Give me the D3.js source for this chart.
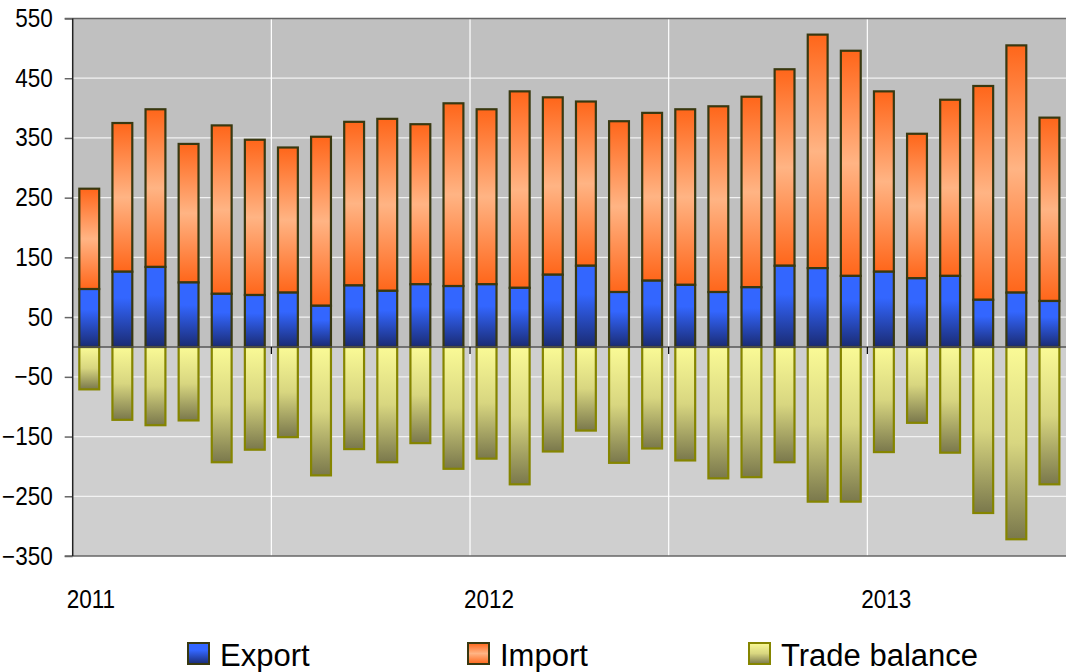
<!DOCTYPE html>
<html>
<head>
<meta charset="utf-8">
<script src="https://cdn.jsdelivr.net/npm/d3@7"></script>
<style>
  body { margin: 0; background: #fff; }
  text { font-family: "Liberation Sans", Arial, sans-serif; fill: #000; }
</style>
</head>
<body>
<div id="chart"></div>
<script>
const months = ["2011-01", "2011-02", "2011-03", "2011-04", "2011-05", "2011-06",
  "2011-07", "2011-08", "2011-09", "2011-10", "2011-11", "2011-12",
  "2012-01", "2012-02", "2012-03", "2012-04", "2012-05", "2012-06",
  "2012-07", "2012-08", "2012-09", "2012-10", "2012-11", "2012-12",
  "2013-01", "2013-02", "2013-03", "2013-04", "2013-05", "2013-06"];
const exportVals = [97, 126, 134, 108, 89, 87, 91, 69, 103, 94, 105, 102, 105, 99, 121,
  136, 92, 111, 104, 92, 100, 136, 132, 119, 126, 115, 119, 79, 91, 77];
const importVals = [168, 249, 264, 232, 282, 260, 243, 283, 274, 288, 268, 306, 293, 329, 297,
  275, 286, 281, 294, 311, 319, 329, 391, 377, 302, 242, 295, 358, 414, 307];
const balanceVals = [-71, -122, -131, -123, -193, -172, -151, -215, -171, -193, -161, -204, -187, -230, -175,
  -140, -194, -170, -190, -220, -218, -193, -259, -259, -176, -127, -177, -278, -322, -230];
const yTicks = [550, 450, 350, 250, 150, 50, -50, -150, -250, -350];
const yearLabels = [{ month: "2011-01", label: "2011" }, { month: "2012-01", label: "2012" }, { month: "2013-01", label: "2013" }];
const gridMonths = ["2011-07", "2012-01", "2012-07", "2013-01"];
const seriesNames = ["Export", "Import", "Trade balance"];

const svgWidth = 1066, svgHeight = 672;
const margin = { top: 18.5, right: 0, bottom: 116, left: 72.7 };
const width = svgWidth - margin.left - margin.right;
const height = svgHeight - margin.top - margin.bottom;
// axis labels in the original use a narrow face: squeeze Liberation Sans a bit
const squeeze = 0.9;

const svg = d3.select("#chart").append("svg").
  attr("width", svgWidth).
  attr("height", svgHeight);

// gradients
const defs = svg.append("defs");
const grad = (id, stops) => {
  const g = defs.append("linearGradient").attr("id", id).
    attr("x1", 0).attr("y1", 0).attr("x2", 0).attr("y2", 1);
  stops.forEach(s => g.append("stop").attr("offset", s[0]).attr("stop-color", s[1]));
};
grad("gExport", [[0, "#3366ff"], [0.35, "#3366ff"], [1, "#1a2b73"]]);
grad("gImport", [[0, "#ff661a"], [0.5, "#ffb484"], [1, "#ff661a"]]);
grad("gBalance", [[0, "#fafa96"], [0.5, "#d8d680"], [1, "#7a784c"]]);

const x = d3.scaleBand().
  domain(months).
  range([0, width]).
  paddingInner(0.4).
  paddingOuter(0.2);
const edge = m => x(m) - x.step() * x.paddingInner() / 2;

const y = d3.scaleLinear().
  domain([-350, 550]).
  range([height, 0]);

const g = svg.append("g").attr("transform", `translate(${margin.left},${margin.top})`);

// plot background, two tones split at zero
g.append("rect").attr("x", 0).attr("y", 0).attr("width", width).attr("height", y(0)).attr("fill", "#c0c0c0");
g.append("rect").attr("x", 0).attr("y", y(0)).attr("width", width).attr("height", height - y(0)).attr("fill", "#cfcfcf");

// grid
g.append("g").
  selectAll("line").
  data(yTicks.slice(1, -1)).
  join("line").
  attr("x1", 0).attr("x2", width).
  attr("y1", d => y(d)).attr("y2", d => y(d)).
  attr("stroke", "#f2f2f2").
  attr("stroke-width", 1.2);
g.append("g").
  selectAll("line").
  data(gridMonths).
  join("line").
  attr("x1", d => edge(d)).attr("x2", d => edge(d)).
  attr("y1", 0).attr("y2", height).
  attr("stroke", "#ffffff").
  attr("stroke-width", 1.2);

// y axis
const yAxis = g.append("g").
  call(d3.axisLeft(y).tickValues(yTicks).tickSize(8).tickPadding(12).tickFormat(d3.format("d")));
yAxis.select(".domain").remove();
yAxis.selectAll(".tick line").attr("stroke", "#666").attr("stroke-width", 1.5);
yAxis.selectAll(".tick text").
  style("font-size", "25px").
  attr("fill", "#000").
  attr("x", -20 / squeeze).
  attr("transform", `scale(${squeeze},1)`);

// borders
g.append("line").attr("x1", -8).attr("x2", width).attr("y1", 0).attr("y2", 0).attr("stroke", "#666").attr("stroke-width", 1.5);
g.append("line").attr("x1", -8).attr("x2", width).attr("y1", height).attr("y2", height).attr("stroke", "#666").attr("stroke-width", 1.5);

// bars
const bw = x.bandwidth();
g.append("g").
  selectAll("rect").
  data(months).
  join("rect").
  attr("x", d => x(d)).
  attr("width", bw).
  attr("y", (d, i) => y(0)).
  attr("height", (d, i) => y(balanceVals[i]) - y(0)).
  attr("fill", "url(#gBalance)").
  attr("stroke", "#858500").
  attr("stroke-width", 2.2);

g.append("g").
  selectAll("rect").
  data(months).
  join("rect").
  attr("x", d => x(d)).
  attr("width", bw).
  attr("y", (d, i) => y(exportVals[i] + importVals[i])).
  attr("height", (d, i) => y(exportVals[i]) - y(exportVals[i] + importVals[i])).
  attr("fill", "url(#gImport)").
  attr("stroke", "#383810").
  attr("stroke-width", 2.2);

g.append("g").
  selectAll("rect").
  data(months).
  join("rect").
  attr("x", d => x(d)).
  attr("width", bw).
  attr("y", (d, i) => y(exportVals[i])).
  attr("height", (d, i) => y(0) - y(exportVals[i])).
  attr("fill", "url(#gExport)").
  attr("stroke", "#383810").
  attr("stroke-width", 2.2);

// zero line and its ticks
g.append("line").attr("x1", 0).attr("x2", width).attr("y1", y(0)).attr("y2", y(0)).attr("stroke", "#555").attr("stroke-width", 1.5);
g.append("g").
  selectAll("line").
  data(gridMonths).
  join("line").
  attr("x1", d => edge(d)).attr("x2", d => edge(d)).
  attr("y1", y(0)).attr("y2", y(0) + 7).
  attr("stroke", "#000").
  attr("stroke-width", 1.2);

// left axis line
g.append("line").attr("x1", 0).attr("x2", 0).attr("y1", 0).attr("y2", height).attr("stroke", "#222").attr("stroke-width", 1.5);

// year labels
g.append("g").
  selectAll("text").
  data(yearLabels).
  join("text").
  attr("x", d => (edge(d.month) - 6) / squeeze).
  attr("y", height + 52).
  attr("transform", `scale(${squeeze},1)`).
  style("font-size", "25px").
  text(d => d.label);

// legend
const legendX = [188, 468, 749];
const legendFill = ["url(#gExport)", "url(#gImport)", "url(#gBalance)"];
const legendStroke = ["#383810", "#383810", "#858500"];
const legend = svg.append("g").
  selectAll("g").
  data(seriesNames).
  join("g").
  attr("transform", (d, i) => `translate(${legendX[i]},643)`);
legend.append("rect").
  attr("width", 21).attr("height", 21).
  attr("fill", (d, i) => legendFill[i]).
  attr("stroke", (d, i) => legendStroke[i]).
  attr("stroke-width", 2);
legend.append("text").
  attr("x", 32).
  attr("y", 23).
  style("font-size", "31px").
  text(d => d);
</script>
</body>
</html>
